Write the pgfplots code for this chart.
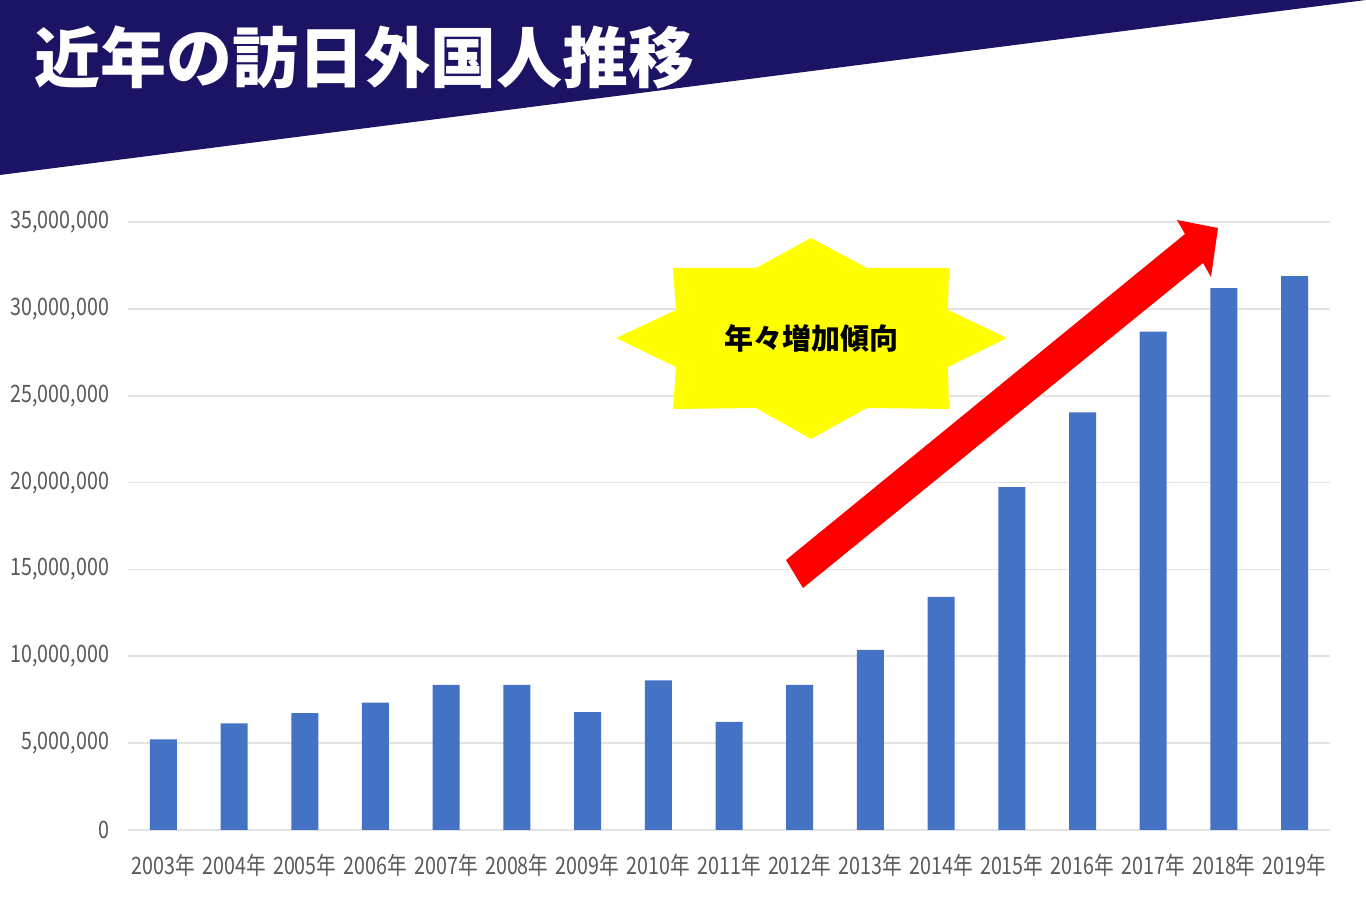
\documentclass[border=0pt]{standalone}
\usepackage{fontspec}
\usepackage{pgfplots}
\usepackage{pgfplotstable}
\pgfplotsset{compat=1.18}
\setmainfont{Noto Sans CJK JP}
\newfontfamily\tickfont[FakeStretch=0.82]{Noto Sans CJK JP}

\definecolor{navy}{HTML}{1B1464}
\definecolor{barblue}{HTML}{4472C4}
\definecolor{ticktext}{HTML}{595959}
\definecolor{gridgray}{HTML}{E3E3E3}
\definecolor{staryellow}{HTML}{FFFF00}
\definecolor{arrowred}{HTML}{FF0000}

% visitors to Japan per year (year index 0 = 2003)
\pgfplotstableread{
idx visitors
0  5212000
1  6138000
2  6728000
3  7334000
4  8347000
5  8351000
6  6790000
7  8611000
8  6219000
9  8358000
10 10364000
11 13413000
12 19737000
13 24040000
14 28691000
15 31192000
16 31882000
}\visitors

\begin{document}
\begin{tikzpicture}[x=0.5pt,y=0.5pt]
\path[use as bounding box] (0,0) rectangle (1366,905);

% title banner
\fill[navy] (0,905) -- (1366,905) -- (0,730) -- cycle;
\node[anchor=west,text=white,font=\fontsize{33pt}{33pt}\selectfont\bfseries,inner sep=0pt]
  at (34,848) {近年の訪日外国人推移};

\begin{axis}[
    at={(64pt,37.5pt)}, anchor=south west,
    scale only axis, width=601pt, height=304pt,
    xmin=-0.5, xmax=16.5,
    ymin=0, ymax=35000000,
    ybar, bar width=13.5pt,
    axis line style={draw=none},
    major tick length=0pt,
    ymajorgrids, grid style={gridgray, line width=0.8pt},
    xtick={0,...,16},
    xticklabels={2003年,2004年,2005年,2006年,2007年,2008年,2009年,2010年,2011年,2012年,2013年,2014年,2015年,2016年,2017年,2018年,2019年},
    ytick={0,5000000,10000000,15000000,20000000,25000000,30000000,35000000},
    scaled y ticks=false,
    /pgf/number format/assume math mode=true,
    yticklabel style={/pgf/number format/fixed, /pgf/number format/1000 sep={,}},
    tick label style={font=\tickfont\fontsize{12pt}{12pt}\selectfont, text=ticktext},
    xticklabel style={anchor=center, yshift=-17.5pt},
    yticklabel style={anchor=east, xshift=-6pt},
]
\addplot[fill=barblue, draw=none] table[x=idx, y=visitors] {\visitors};
\end{axis}

% callout star
\fill[staryellow] (811,667) -- (867,637) -- (949,637) -- (948,595) -- (1007,567)
  -- (948,538) -- (949,496) -- (867,497) -- (811,466) -- (756,497)
  -- (673,496) -- (676,538) -- (616,567) -- (676,595) -- (673,637)
  -- (756,637) -- cycle;
\node[font=\fontsize{14.5pt}{14.5pt}\selectfont\bfseries] at (811,567) {年々増加傾向};

% trend arrow
\fill[arrowred] (786,345) -- (1185,671) -- (1177,685) -- (1218,677) -- (1211,628)
  -- (1203,642) -- (803,317) -- cycle;
\end{tikzpicture}
\end{document}
